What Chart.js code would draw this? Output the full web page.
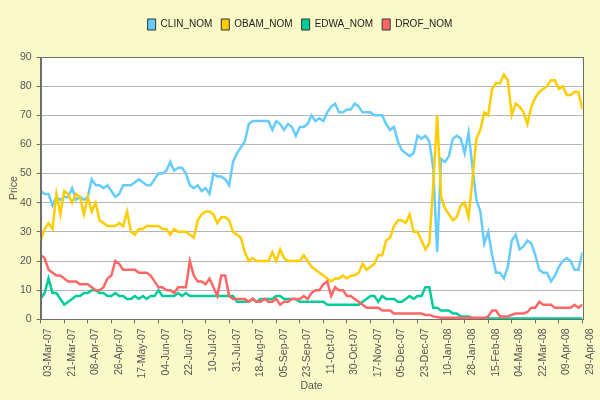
<!DOCTYPE html>
<html>
<head>
<meta charset="utf-8">
<script src="https://cdn.jsdelivr.net/npm/chart.js@4.4.0/dist/chart.umd.min.js"></script>
<style>
  body { margin: 0; background: #FAFAC8; }
  #wrap { width: 600px; height: 400px; }
</style>
</head>
<body>
<div id="wrap"><canvas id="priceChart" width="600" height="400"></canvas></div>
<script>
// tick labels, one every 6 samples
const tickLabels = ["03-Mar-07", "21-Mar-07", "08-Apr-07", "26-Apr-07", "17-May-07", "04-Jun-07",
    "22-Jun-07", "10-Jul-07", "31-Jul-07", "18-Aug-07", "05-Sep-07", "23-Sep-07", "11-Oct-07",
    "30-Oct-07", "17-Nov-07", "05-Dec-07", "23-Dec-07", "10-Jan-08", "28-Jan-08", "15-Feb-08",
    "04-Mar-08", "22-Mar-08", "09-Apr-08", "29-Apr-08"];
const samplesPerTick = 6;

const seriesNames = ["CLIN_NOM", "OBAM_NOM", "EDWA_NOM", "DROF_NOM"];

const clin = [
    44, 43, 43, 39, 42, 41,  42, 42, 45, 41, 42, 41,  42, 48, 46, 46, 45, 46,
    44, 42, 43, 46, 46, 46,  47, 48, 47, 46, 46, 48,  50, 50, 51, 54, 51, 52,
    52, 50, 46, 45, 46, 44,  45, 43, 50, 49, 49, 48,  46, 54, 57, 59, 61, 67,
    68, 68, 68, 68, 68, 65,  68, 67, 65, 67, 66, 63,  66, 66, 67, 70, 68, 69,
    68, 71, 73, 74, 71, 71,  72, 72, 74, 73, 71, 71,  71, 70, 70, 70, 67, 65,
    66, 61, 58, 57, 56, 57,  63, 62, 63, 61, 52, 23,  55, 54, 56, 62, 63, 62,
    57, 64, 52, 41, 37, 26,  30, 22, 16, 16, 14, 18,  27, 29, 24, 25, 27, 26,
    22, 17, 16, 16, 13, 15,  18, 20, 21, 20, 17, 17,  23];
const obam = [
    27, 31, 33, 31, 43, 36,  44, 43, 40, 43, 42, 36,  42, 37, 40, 34, 33, 32,
    32, 32, 33, 32, 37, 30,  29, 31, 31, 32, 32, 32,  32, 31, 31, 29, 31, 30,
    30, 30, 29, 28, 34, 36,  37, 37, 36, 33, 35, 35,  34, 30, 29, 28, 23, 20,
    21, 20, 20, 20, 20, 23,  20, 24, 21, 20, 20, 20,  20, 22, 20, 18, 17, 16,
    15, 14, 13, 14, 14, 15,  14, 15, 15, 16, 19, 17,  18, 19, 22, 22, 27, 28,
    32, 34, 34, 33, 36, 30,  30, 27, 24, 26, 46, 70,  42, 38, 36, 34, 35, 39,
    40, 35, 48, 62, 65, 71,  70, 79, 81, 81, 84, 82,  70, 74, 73, 71, 67, 73,
    76, 78, 79, 80, 82, 82,  79, 80, 77, 77, 78, 78,  72];
const edwa = [
    7, 9, 14, 9, 9, 7,  5, 6, 7, 8, 8, 9,  9, 10, 10, 9, 9, 8,
    8, 9, 8, 8, 7, 7,  8, 7, 8, 7, 8, 8,  10, 8, 8, 8, 8, 9,
    8, 9, 8, 8, 8, 8,  8, 8, 8, 8, 8, 8,  8, 8, 6, 6, 6, 6,
    7, 6, 7, 7, 7, 7,  8, 8, 7, 7, 7, 7,  6, 6, 6, 6, 6, 6,
    6, 5, 5, 5, 5, 5,  5, 5, 5, 5, 6, 7,  8, 8, 6, 8, 7, 7,
    7, 6, 6, 7, 8, 7,  8, 8, 11, 11, 4, 4,  3, 3, 3, 2, 2, 1,
    1, 1, 0.5, 0.3, 0.3, 0.3,  0.3, 0.3, 0.3, 0.3, 0.3, 0.3,  0.3, 0.3, 0.3, 0.3, 0.3, 0.3,
    0.3, 0.3, 0.3, 0.3, 0.3, 0.3,  0.3, 0.3, 0.3, 0.3, 0.3, 0.3,  0.3];
const drof = [
    22, 21, 17, 16, 15, 15,  14, 13, 13, 13, 12, 12,  12, 11, 10, 10, 11, 14,
    15, 20, 19, 17, 17, 17,  17, 16, 16, 16, 15, 13,  11, 11, 10, 10, 9, 11,
    11, 11, 20, 15, 13, 13,  12, 14, 11, 8, 15, 15,  8, 7, 7, 7, 7, 6,
    7, 6, 6, 7, 6, 6,  7, 5, 6, 6, 7, 7,  7, 8, 7, 9, 10, 10,
    12, 13, 8, 11, 10, 10,  8, 8, 7, 6, 5, 4,  4, 4, 4, 3, 3, 3,
    2, 2, 2, 2, 2, 2,  2, 2, 1.5, 1.5, 1, 0.8,  0.5, 0.5, 0.5, 0.5, 0.5, 0.5,
    0.5, 0.5, 0.5, 0.5, 0.5, 0.5,  1, 3, 3, 1, 1, 1,  1.5, 2, 2, 2, 2.5, 4,
    4, 6, 5, 5, 5, 4,  4, 4, 4, 4, 5, 4,  5];

const colors = ["#66CCFF", "#FFCC00", "#00CC99", "#FF6666"];
const allValues = [clin, obam, edwa, drof];

const sampleIndex = clin.map((v, i) => i);
const fontFamily = "'Liberation Sans', Arial, sans-serif";

const frame = {
    id: "frame",
    beforeInit(chart) {
        const legend = chart.legend;
        // push the plot down below the legend
        const fit = legend.fit;
        legend.fit = function () {
            fit.bind(legend)();
            this.height += 17;
        };
        // centre legend on the whole canvas, not the padded area
        const draw = legend.draw;
        legend.draw = function () {
            const c = this.ctx;
            c.save();
            c.translate(8, 0);
            draw.call(legend);
            c.restore();
        };
    },
    beforeDraw(chart) {
        const { ctx, chartArea: a } = chart;
        ctx.save();
        ctx.fillStyle = "#FAFAC8";
        ctx.fillRect(0, 0, chart.width, chart.height);
        ctx.fillStyle = "#FFFFFF";
        ctx.fillRect(a.left, a.top, a.right - a.left, a.bottom - a.top);
        ctx.restore();
    },
    afterDraw(chart) {
        const { ctx, chartArea: a } = chart;
        ctx.save();
        ctx.strokeStyle = "#6E6E6E";
        ctx.lineWidth = 1;
        ctx.strokeRect(Math.round(a.left) + 0.5, Math.round(a.top) + 0.5,
            Math.round(a.right - a.left), Math.round(a.bottom - a.top));
        ctx.restore();
    }
};

const ctx = document.getElementById("priceChart").getContext("2d");

new Chart(ctx, {
    type: "line",
    data: {
        labels: sampleIndex,
        datasets: seriesNames.map((name, k) => ({
            label: name,
            data: allValues[k],
            borderColor: colors[k],
            backgroundColor: colors[k],
            borderWidth: 2.5,
            pointRadius: 0,
            tension: 0,
            fill: false,
            order: seriesNames.length - k // later series drawn on top
        }))
    },
    plugins: [frame],
    options: {
        responsive: false,
        animation: false,
        layout: { padding: { top: 10, right: 16, bottom: 0, left: 0 } },
        plugins: {
            tooltip: { enabled: false },
            legend: {
                position: "top",
                labels: {
                    boxWidth: 8,
                    boxHeight: 11,
                    padding: 9,
                    color: "#222",
                    font: { family: fontFamily, size: 10 },
                    generateLabels(chart) {
                        return chart.data.datasets.map((ds, i) => ({
                            text: ds.label,
                            fillStyle: ds.backgroundColor,
                            strokeStyle: "#333",
                            lineWidth: 1,
                            hidden: false,
                            datasetIndex: i,
                            fontColor: "#222"
                        }));
                    }
                }
            }
        },
        scales: {
            x: {
                type: "linear",
                min: 0,
                max: clin.length - 1,
                afterFit(scale) { scale.height = 80.7; },
                grid: {
                    drawOnChartArea: false,
                    drawTicks: true,
                    tickLength: 4,
                    tickColor: "#6E6E6E"
                },
                border: { color: "#6E6E6E", width: 1 },
                ticks: {
                    stepSize: samplesPerTick,
                    maxTicksLimit: 40,
                    autoSkip: false,
                    minRotation: 90,
                    maxRotation: 90,
                    padding: 5,
                    labelOffset: 7.5,
                    color: "#555",
                    font: { family: fontFamily, size: 10.5 },
                    callback: (value) => tickLabels[Math.round(value / samplesPerTick)]
                },
                title: {
                    display: true,
                    text: "Date",
                    color: "#555",
                    font: { family: fontFamily, size: 10.5 },
                    padding: { top: 0, bottom: 7.7 }
                }
            },
            y: {
                min: 0,
                max: 90,
                afterFit(scale) { scale.width = 40.7; },
                grid: {
                    color: "#B4B4B4",
                    tickLength: 4,
                    tickColor: "#6E6E6E"
                },
                border: { color: "#6E6E6E", width: 1 },
                ticks: {
                    stepSize: 10,
                    padding: 5,
                    color: "#555",
                    font: { family: fontFamily, size: 10.5 }
                },
                title: {
                    display: true,
                    text: "Price",
                    color: "#555",
                    font: { family: fontFamily, size: 10.5 },
                    padding: { top: 7.7, bottom: 0 }
                }
            }
        }
    }
});
</script>
</body>
</html>
